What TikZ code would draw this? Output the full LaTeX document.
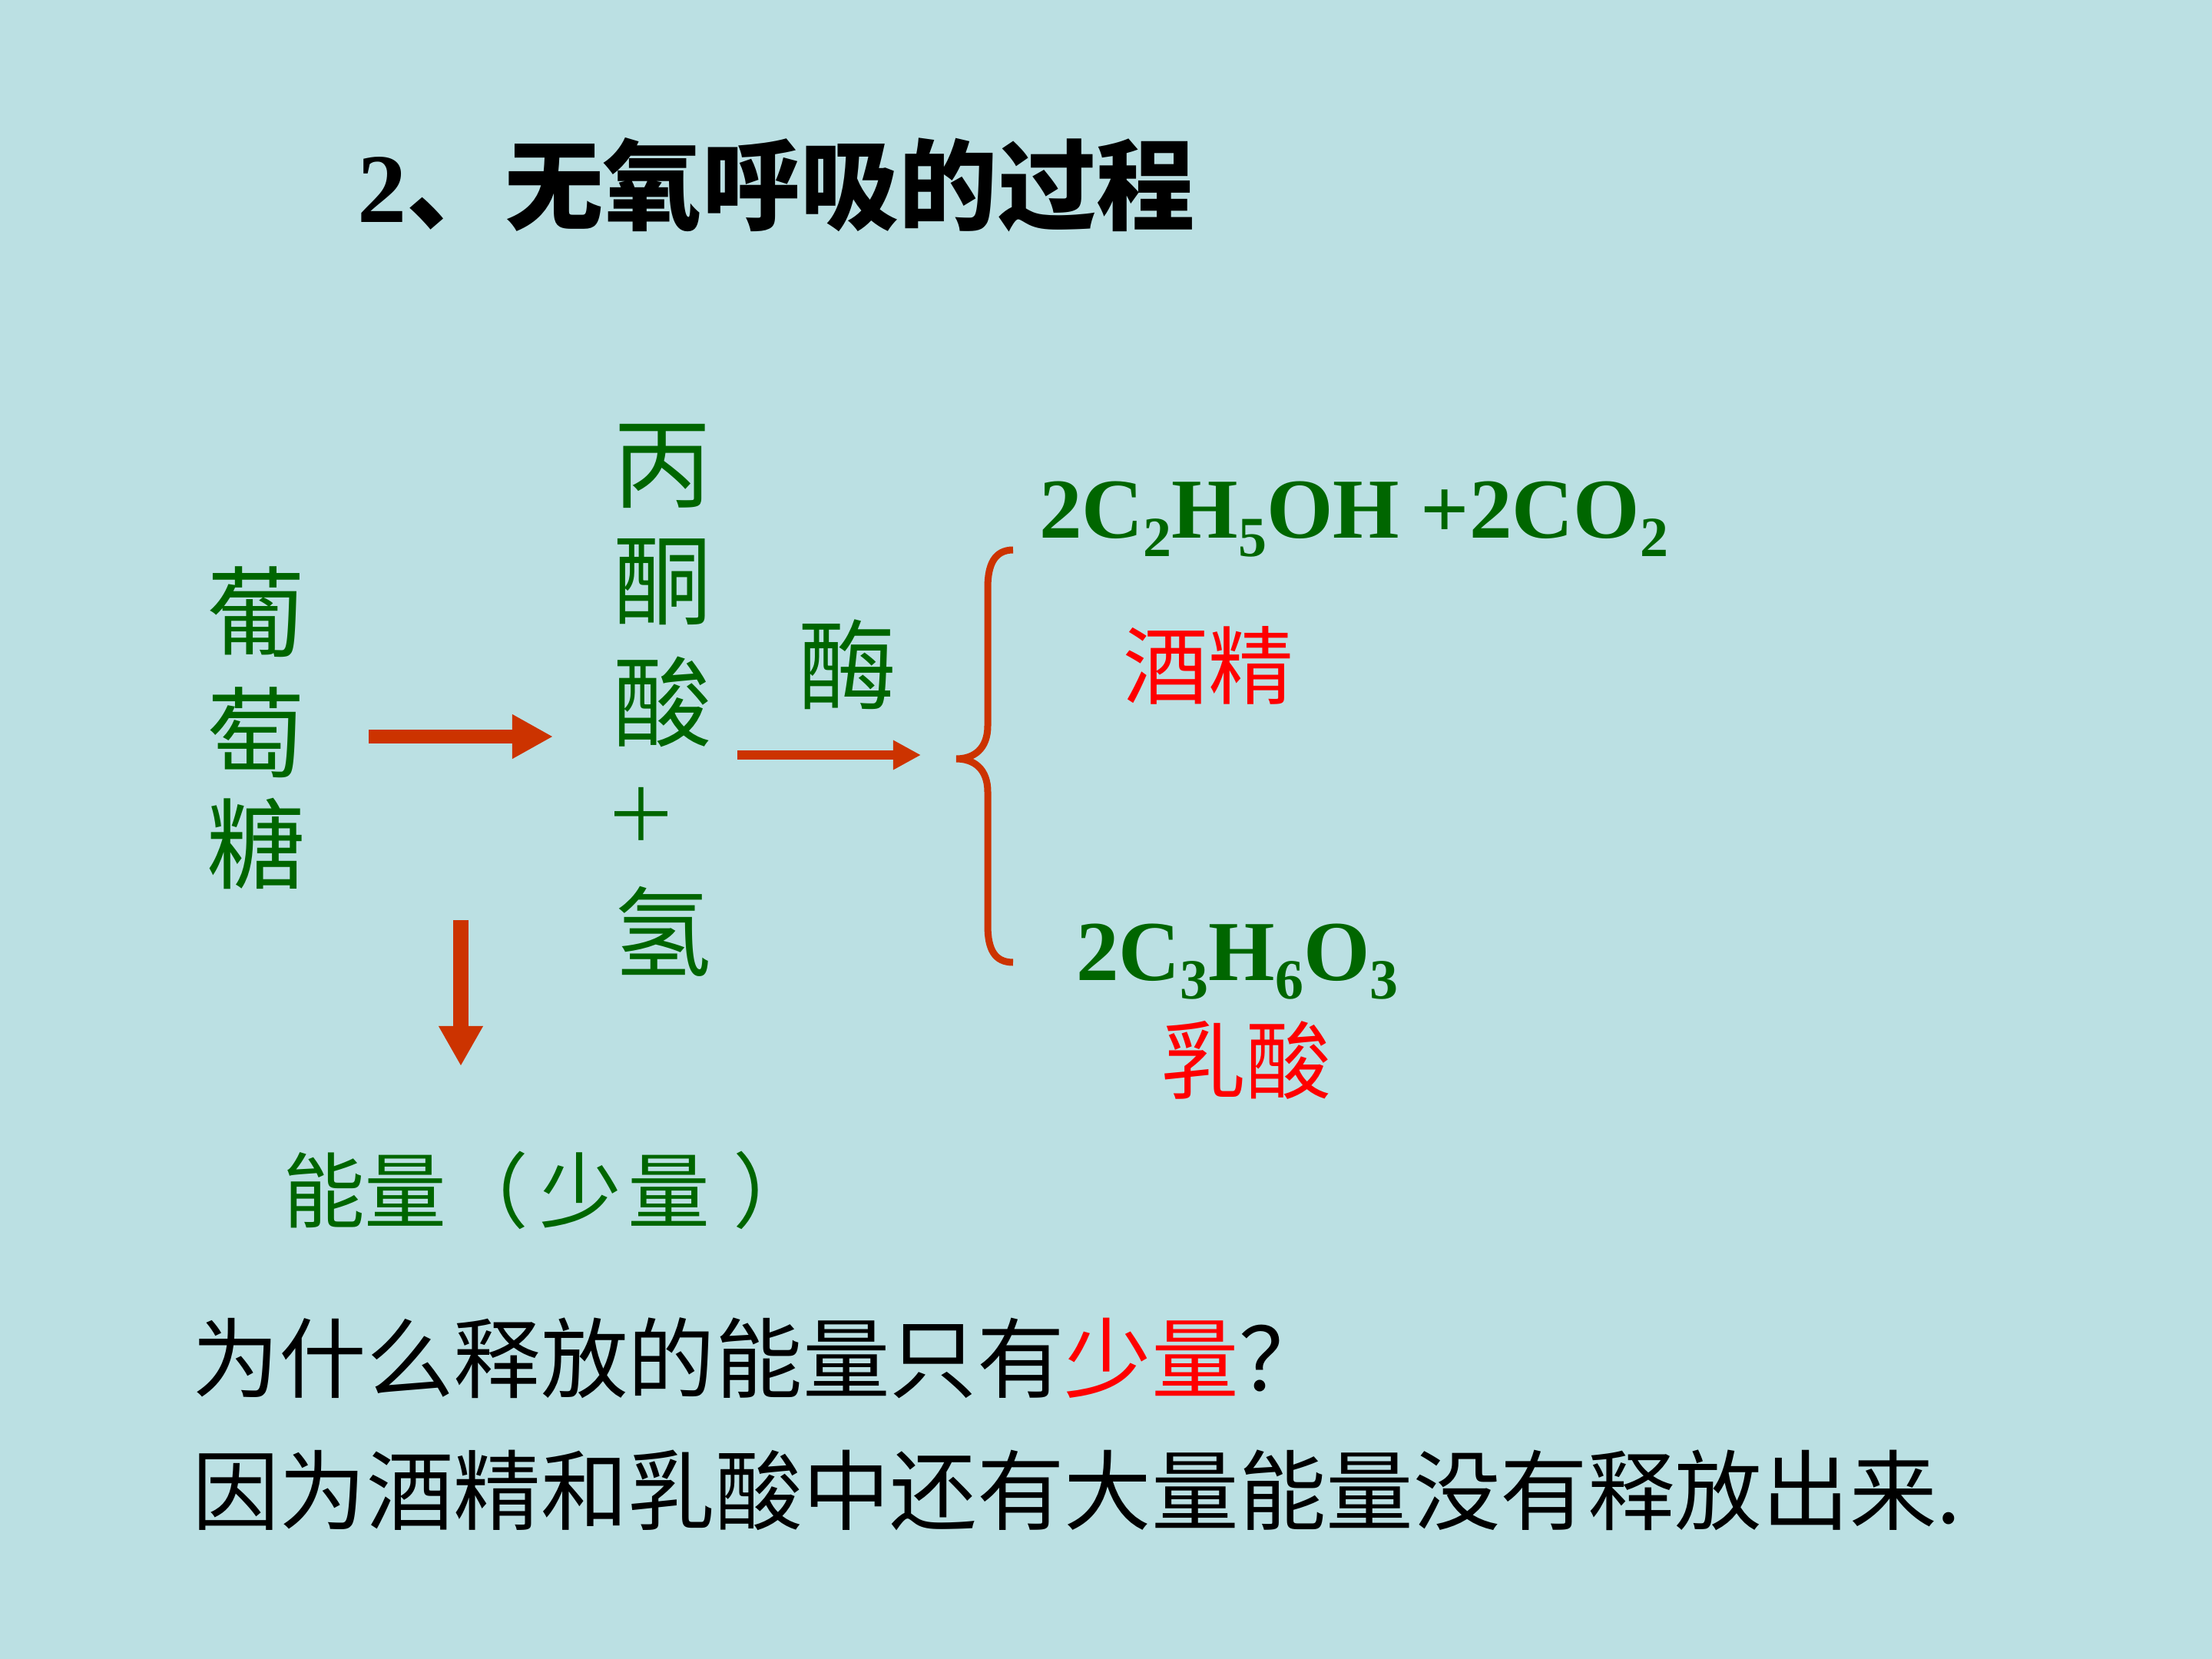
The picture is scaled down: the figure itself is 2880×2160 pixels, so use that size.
\documentclass[tikz,border=0pt]{standalone}
\usepackage{fontspec}
\usepackage{graphicx}
\setmainfont{Liberation Serif}
\newfontfamily\cjk{Noto Sans CJK SC}
\usetikzlibrary{arrows.meta}
\definecolor{bg}{HTML}{BBE0E3}
\definecolor{grn}{HTML}{006600}
\definecolor{arr}{HTML}{CC3300}
\definecolor{rd}{HTML}{FF0000}
\newcommand{\fsz}[1]{\fontsize{#1}{#1}\selectfont}
\newcommand{\sbs}[1]{\raisebox{-0.24cm}{\fontsize{21pt}{21pt}\selectfont #1}}
\begin{document}
\begin{tikzpicture}[x=0.01cm,y=-0.01cm,
  every node/.style={inner sep=0pt, outer sep=0pt},
  colchar/.style={text=grn, font=\cjk\fsz{36.5pt}},
  redlbl/.style={text=rd, font=\cjk\fsz{31.5pt}},
  fmla/.style={text=grn, font=\bfseries\fsz{31.6pt}, anchor=base west},
  body/.style={font=\cjk\fsz{32.3pt}, anchor=west},
  bigarrow/.style={draw=arr, line width=0.18cm, -{Triangle[length=0.53cm,width=0.54cm]}},
  smallarrow/.style={draw=arr, line width=0.12cm, -{Triangle[length=0.36cm,width=0.36cm]}},
  bracepath/.style={draw=arr, line width=0.09cm}
]
\useasboundingbox (0,0) rectangle (2880,2160);
\fill[bg] (0,0) rectangle (2880,2160);

% title
\node[anchor=base west, font=\cjk\bfseries\fsz{36.5pt}] (title) at (465,289) {{\rmfamily\bfseries 2}、无氧呼吸的过程};

% glucose column
\node[colchar] (pu1) at (334,797) {葡};
\node[colchar] (pu2) at (334,954) {萄};
\node[colchar] (pu3) at (334,1098) {糖};

% pyruvate column
\node[colchar] (py1) at (863,607) {丙};
\node[colchar] (py2) at (863,758) {酮};
\node[colchar] (py3) at (863,914) {酸};
\node[colchar, font=\cjk\fsz{27pt}] (plus) at (835,1060) {＋};
\node[colchar] (hyd) at (863,1213) {氢};

% enzyme
\node[colchar] (enz) at (1104,865) {酶};

% arrows
\coordinate (a1s) at (480,959);
\coordinate (a1e) at (720,959);
\draw[bigarrow] (a1s) -- (a1e);
\coordinate (a2s) at (960,983);
\coordinate (a2e) at (1199,983);
\draw[smallarrow] (a2s) -- (a2e);
\coordinate (a3s) at (600,1198);
\coordinate (a3e) at (600,1388);
\draw[draw=arr, line width=0.19cm, -{Triangle[length=0.52cm,width=0.54cm]}] (a3s) -- (a3e);

% energy
\node[body, text=grn, font=\cjk\fsz{30.4pt}] (energy) at (368,1550) {能量（\kern0.14cm 少\kern0.08cm 量\kern0.3cm ）};

% brace
\draw[bracepath] (1319,716) .. controls (1295,716) and (1286,735) .. (1286,765)
  -- (1286,945) .. controls (1286,975) and (1268,988) .. (1245,988)
  .. controls (1268,988) and (1286,1001) .. (1286,1031)
  -- (1286,1205) .. controls (1286,1236) and (1295,1253) .. (1319,1253);

% products
\node[fmla] (eth) at (1353,700) {2C\sbs{2}H\sbs{5}OH +2CO\sbs{2}};
\node[redlbl] (alc) at (1573,866) {酒精};
\node[fmla] (lac) at (1401,1276) {2C\sbs{3}H\sbs{6}O\sbs{3}};
\node[redlbl] (lacn) at (1622,1380) {乳酸};

% bottom text
\node[body] (q) at (250,1768) {为什么释放的能量只有{\color{rd}少量}？};
\node[body] (a) at (250,1940) {因为酒精和乳酸中还有大量能量没有释放出来.};
\end{tikzpicture}
\end{document}
